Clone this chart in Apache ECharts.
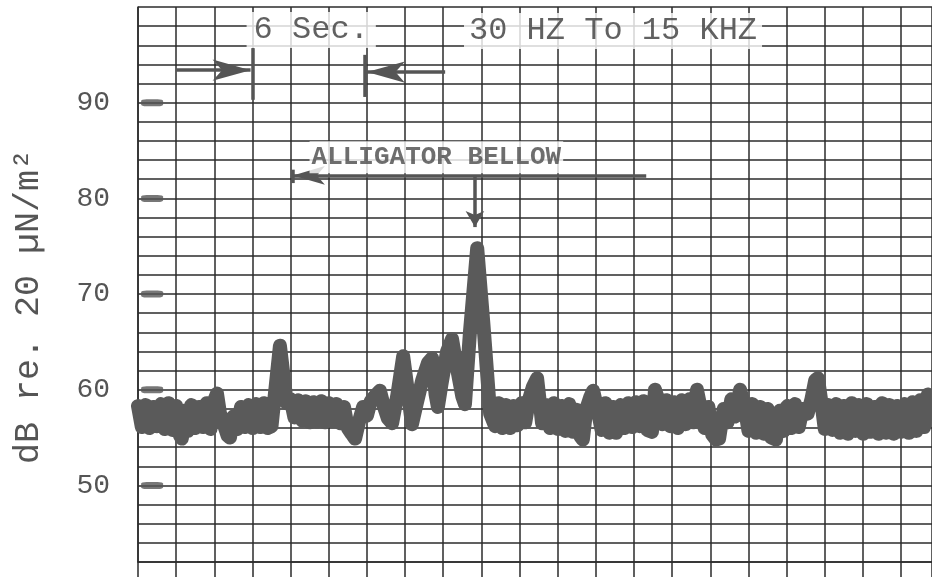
<!DOCTYPE html>
<html>
<head>
<meta charset="utf-8">
<script src="https://cdn.jsdelivr.net/npm/echarts@6/dist/echarts.min.js"></script>
<style>
html,body{margin:0;padding:0;background:#fff;}
#chart{width:932px;height:577px;}
</style>
</head>
<body>
<div id="chart"></div>
<script>
// ---- data read from the recording ----
// time along the strip, in chart divisions (1 division = one vertical grid line)
const traceX = [
  0.0,0.1,0.2,0.3,0.4,0.5,0.6,0.7,0.8,0.9,1.0,1.1,1.15,1.2,1.3,1.4,1.5,1.6,1.7,1.8,1.9,2.0,2.07,2.15,2.25,2.35,2.41,
  2.5,2.6,2.7,2.8,2.9,3.0,3.1,3.2,3.3,3.4,3.5,3.72,3.9,
  4.0,4.1,4.2,4.3,4.4,4.5,4.6,4.7,4.8,4.9,5.0,5.1,5.2,5.3,5.4,5.5,5.6,5.69,5.8,5.9,
  6.0,6.1,6.2,6.34,6.45,6.55,6.66,6.8,6.95,7.05,7.18,7.3,7.45,7.6,7.71,7.8,7.86,7.95,8.1,8.23,8.35,8.5,8.57,8.7,8.89,9.05,9.23,9.36,
  9.45,9.55,9.65,9.75,9.85,9.95,10.05,10.15,10.25,10.35,10.46,10.55,10.59,10.7,10.8,10.9,11.0,11.1,11.2,11.3,11.4,11.5,11.6,11.66,
  11.75,11.85,11.93,12.05,12.15,12.25,12.35,12.45,12.53,12.65,12.75,12.85,12.95,13.05,13.15,13.25,13.35,13.47,13.55,
  13.65,13.75,13.85,13.95,14.05,14.15,14.25,14.35,14.45,14.55,14.65,14.75,14.85,14.95,15.05,15.15,15.23,15.35,15.45,15.55,15.65,15.78,
  15.9,16.0,16.1,16.2,16.3,16.4,16.5,16.6,16.72,16.82,16.92,17.02,17.12,17.22,17.32,17.42,17.55,17.65,17.75,17.82,17.9,
  18.0,18.1,18.2,18.3,18.4,18.5,18.6,18.7,18.8,18.9,19.0,19.1,19.2,19.3,19.4,19.5,19.6,19.7,19.8,19.9,20.0,20.1,20.2,20.3,20.4,20.5,20.6,20.7,20.81
];
// sound level, dB re. 20 µN/m²
const traceY = [
  58.3,56.1,58.4,56.0,58.2,56.2,58.5,55.9,58.6,55.8,58.3,55.2,54.9,57.8,55.7,58.4,56.0,58.2,56.1,58.6,55.9,58.9,59.6,57.5,56.4,55.2,55.0,
  57.2,55.9,58.2,56.1,58.4,56.0,58.5,56.1,58.6,56.0,56.2,64.6,58.6,
  59.0,57.1,58.9,56.8,58.8,56.6,58.7,56.7,58.8,56.6,58.6,56.7,58.5,56.5,58.2,56.0,55.4,54.9,56.8,58.2,
  57.3,58.8,59.3,59.9,58.2,57.0,56.5,59.5,63.5,60.5,56.4,58.5,61.0,62.8,63.3,59.5,58.2,60.5,64.0,65.3,62.5,59.3,58.5,66.0,74.8,67.0,57.5,56.2,
  58.6,56.0,58.4,56.0,58.3,56.3,58.6,56.6,59.0,60.3,61.2,58.0,56.5,58.4,56.0,58.6,55.9,58.3,55.7,58.5,55.6,57.9,55.1,54.8,
  58.0,59.2,59.9,57.8,55.8,58.6,55.5,58.2,55.5,58.4,56.0,58.6,56.1,58.7,56.2,58.8,55.8,55.6,60.0,
  58.8,56.4,58.9,56.2,58.7,56.0,58.9,56.4,59.0,56.6,60.0,58.0,56.0,58.2,55.3,54.8,54.9,58.0,56.6,59.0,57.2,60.0,
  58.2,55.7,58.5,55.5,58.2,55.4,58.0,55.0,54.8,57.8,55.7,58.3,56.0,58.5,56.1,58.0,57.5,59.0,61.0,61.2,59.0,
  55.9,58.4,55.8,58.5,55.5,58.3,55.4,58.6,55.7,58.4,55.4,58.5,55.6,58.2,55.4,58.6,55.5,58.4,55.4,58.3,55.6,58.5,55.5,58.7,55.7,58.9,56.1,59.5,58.8
];
// calibration marks at the left edge of the paper
const calLevels = [90, 80, 70, 60, 50];
const labelledTicks = [50, 60, 70, 80, 90];
const noteTexts = ['6 Sec.', '30 HZ To 15 KHZ', 'ALLIGATOR BELLOW'];
const yTitle = 'dB re. 20 µN/m²';

// ---- chart ----
const chart = echarts.init(document.getElementById('chart'), null, {renderer: 'canvas'});
const gridCol = '#2b2b2b';
const inkCol = '#555555';
const mono = "'Liberation Mono', 'DejaVu Sans Mono', monospace";

const traceData = traceX.map((x, i) => [x, traceY[i]]);
const calData = calLevels.map(v => [0.37, v]);

const arrowLine = {width: 3.5, color: inkCol, type: 'solid'};
function seg(x1, y1, x2, y2, s1, s2, size) {
  return [
    {coord: [x1, y1], symbol: s1 || 'none', symbolSize: size || [14, 36]},
    {coord: [x2, y2], symbol: s2 || 'none', symbolSize: size || [14, 36]}
  ];
}

const option = {
  backgroundColor: '#ffffff',
  animation: false,
  grid: {left: 138, right: 0, top: 7, bottom: 15, containLabel: false},
  xAxis: {
    type: 'value', min: 0, max: 20.81, interval: 1,
    axisLine: {show: true, lineStyle: {color: gridCol, width: 1.5}},
    axisTick: {show: true, inside: false, length: 15, lineStyle: {color: gridCol, width: 1.5}},
    axisLabel: {show: false},
    splitLine: {show: true, lineStyle: {color: gridCol, width: 1.5}}
  },
  yAxis: {
    type: 'value', min: 42, max: 100, interval: 2,
    name: yTitle, nameLocation: 'middle', nameGap: 92, nameRotate: 90,
    nameTextStyle: {fontFamily: mono, fontSize: 35, color: inkCol, padding: [0, 44, 0, 0]},
    axisLine: {show: true, lineStyle: {color: gridCol, width: 1.5}},
    axisTick: {show: false},
    axisLabel: {
      show: true, margin: 28, fontFamily: mono, fontSize: 28, color: inkCol,
      verticalAlign: 'middle', padding: [0, 0, 18, 0],
      formatter: v => (labelledTicks.indexOf(v) >= 0 ? String(v) : '')
    },
    splitLine: {show: true, lineStyle: {color: gridCol, width: 1.5}}
  },
  series: [
    {
      name: 'trace', type: 'line', data: traceData, showSymbol: false, smooth: false,
      lineStyle: {color: '#5a5a5a', width: 14, join: 'round', cap: 'round'},
      z: 5,
      markLine: {
        silent: true, animation: false, label: {show: false},
        lineStyle: arrowLine,
        data: [
          seg(1.0, 93.4, 2.95, 93.4, 'none', 'arrow', [16, 38]),
          seg(3.0, 95.7, 3.0, 90.3),
          seg(8.05, 93.2, 6.0, 93.2, 'none', 'arrow', [16, 38]),
          seg(5.95, 95.0, 5.95, 90.6),
          seg(13.32, 82.4, 4.06, 82.4, 'none', 'arrow', [14, 32]),
          seg(4.06, 83.0, 4.06, 81.6),
          seg(8.83, 82.4, 8.83, 77.0, 'none', 'arrow', [14, 16])
        ]
      }
    },
    {
      name: 'cal', type: 'scatter', data: calData,
      symbol: 'roundRect', symbolSize: [22, 7],
      itemStyle: {color: inkCol}, z: 4
    },
    {
      name: 'notes', type: 'scatter', symbolSize: 0, z: 6,
      data: [
        {value: [4.54, 97.6], label: {formatter: noteTexts[0], fontSize: 32, padding: [2, 7]}},
        {value: [12.45, 97.5], label: {formatter: noteTexts[1], fontSize: 32, padding: [2, 5]}},
        {value: [7.82, 84.3], label: {formatter: noteTexts[2], fontSize: 26, fontWeight: 'bold', color: '#4a4a4a', padding: [0, 2]}}
      ],
      label: {
        show: true, position: 'inside', fontFamily: mono, color: '#3a3a3a',
        backgroundColor: '#ffffff', lineHeight: 32
      }
    }
  ]
};
chart.setOption(option);
</script>
</body>
</html>
